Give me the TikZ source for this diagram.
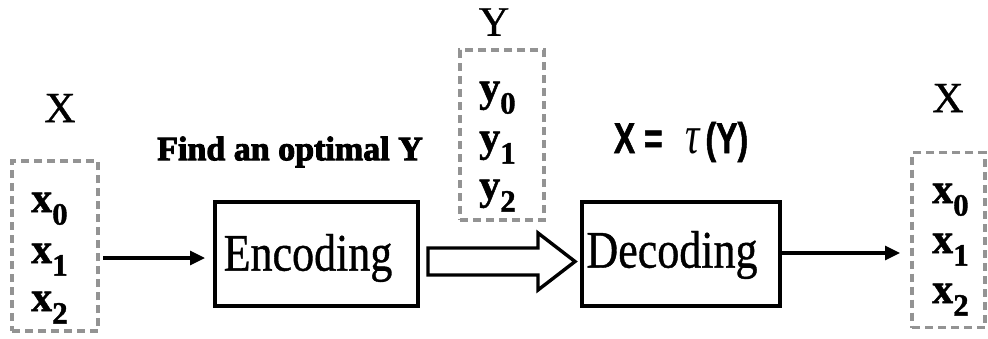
\documentclass[tikz,border=0pt]{standalone}
\usepackage{fontspec}
\setmainfont{Liberation Serif}
\newfontfamily\sansf[FakeBold=1.5]{Liberation Sans Bold}
\newfontfamily\heavy[FakeBold=3]{Liberation Serif Bold}
\newfontfamily\itemf[FakeBold=1.2]{Liberation Serif Bold}
\newfontfamily\regf[FakeBold=0.8]{Liberation Serif}
\newfontfamily\grkf{Liberation Serif Italic}
\usetikzlibrary{arrows.meta}
\newcommand\vsub[2]{{\itemf #1}\raisebox{-0.3em}{\fontsize{31}{31}\selectfont\itemf #2}}
\begin{document}
\begin{tikzpicture}[x=1pt,y=-1pt,
  dbox/.style={draw=gray!85, line width=3.2pt, dash pattern=on 8pt off 5pt, inner sep=0pt},
  blk/.style={draw, line width=3.6pt, inner sep=0pt, minimum height=104pt},
  big/.style={font=\fontsize{44}{44}\selectfont\regf, yscale=1.2},
  lab/.style={font=\fontsize{43}{43}\selectfont\regf, inner sep=0pt},
  item/.style={font=\fontsize{42}{42}\selectfont, anchor=base west, inner sep=0pt},
  arr/.style={line width=3.2pt, -{Triangle[length=15pt,width=14pt]}}]
\useasboundingbox (0,0) rectangle (988,338);
% boxes
\node[dbox, minimum width=86pt, minimum height=170pt] (lx) at (55,246) {};
\node[dbox, minimum width=84pt, minimum height=170pt] (yb) at (502,135) {};
\node[dbox, minimum width=73pt, minimum height=175pt] (rx) at (948.5,240) {};
\node[blk, minimum width=203pt] (enc) at (316.5,254) {};
\node[blk, minimum width=198pt] (dec) at (681,254) {};
\node[big] (enct) at (308,258) {Encoding};
\node[big] (dect) at (672,255) {Decoding};
% labels
\node[lab] (lX) at (60,108) {X};
\node[lab] (rX) at (948,98) {X};
\node[lab, font=\fontsize{42}{42}\selectfont\regf] (lY) at (494,22) {Y};
\node[inner sep=0pt, font=\fontsize{34}{34}\selectfont\heavy] (find) at (290,152) {Find an optimal Y};
\node[inner sep=0pt, font=\fontsize{32}{32}\selectfont\sansf, yscale=1.35] (tau) at (681,142) {X =\;\, {\fontsize{40}{40}\selectfont\grkf τ}\,(Y)};
% items
\node[item] (x0) at (31,212) {\vsub{x}{0}};
\node[item] (x1) at (31,263) {\vsub{x}{1}};
\node[item] (x2) at (31,311) {\vsub{x}{2}};
\node[item] (y0) at (479,101) {\vsub{y}{0}};
\node[item] (y1) at (479,151) {\vsub{y}{1}};
\node[item] (y2) at (479,199) {\vsub{y}{2}};
\node[item] (r0) at (932,203) {\vsub{x}{0}};
\node[item] (r1) at (932,253) {\vsub{x}{1}};
\node[item] (r2) at (932,303) {\vsub{x}{2}};
% connectors
\coordinate (a1) at (103,258);
\coordinate (a2) at (205,258);
\draw[arr] (a1) -- (a2);
\coordinate (b1) at (900,253);
\draw[arr] (dec.east |- b1) -- (b1);
% hollow arrow
\draw[line width=3.4pt, line join=miter] (428,248) -- (538,248) -- (538,233) -- (575,261.5) -- (538,290) -- (538,275) -- (428,275) -- cycle;
\end{tikzpicture}
\end{document}
